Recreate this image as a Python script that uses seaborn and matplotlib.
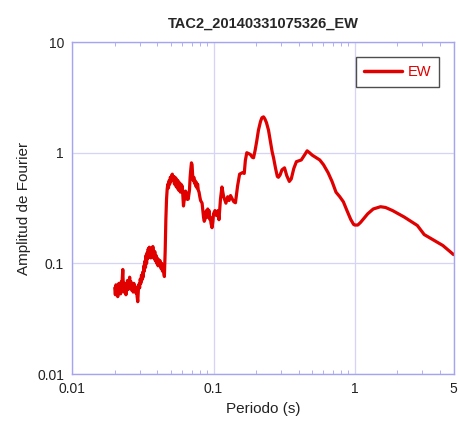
import matplotlib
matplotlib.use("Agg")
import matplotlib.pyplot as plt
import matplotlib.ticker as mticker
import seaborn as sns
import pandas as pd

# Fourier amplitude spectrum
periodo = [
    0.0200, 0.0202, 0.0204, 0.0206, 0.0208, 0.0210, 0.0212, 0.0214, 0.0216, 0.0218,
    0.0220, 0.0222, 0.0224, 0.0226, 0.0228, 0.0230, 0.0232, 0.0234, 0.0236, 0.0238,
    0.0240, 0.0243, 0.0246, 0.0249, 0.0252, 0.0255, 0.0258, 0.0261, 0.0264, 0.0267,
    0.0270, 0.0273, 0.0276, 0.0279, 0.0282, 0.0285, 0.0288, 0.0291, 0.0294, 0.0297,
    0.0300, 0.0303, 0.0306, 0.0309, 0.0312, 0.0315, 0.0318, 0.0321, 0.0324, 0.0327,
    0.0330, 0.0333, 0.0336, 0.0339, 0.0342, 0.0345, 0.0348, 0.0351, 0.0354, 0.0357,
    0.0360, 0.0364, 0.0368, 0.0372, 0.0376, 0.0380, 0.0384, 0.0388, 0.0392, 0.0396,
    0.0400, 0.0405, 0.0410, 0.0415, 0.0420, 0.0425, 0.0430, 0.0435, 0.0440, 0.0445,
    0.0449, 0.0455, 0.0460, 0.0465, 0.0470, 0.0475, 0.0480, 0.0485, 0.0490, 0.0495,
    0.0500, 0.0505, 0.0511, 0.0517, 0.0523, 0.0529, 0.0535, 0.0541, 0.0547, 0.0553,
    0.0559, 0.0565, 0.0571, 0.0577, 0.0583, 0.0589, 0.0595, 0.0601, 0.0607, 0.0613,
    0.0620, 0.0627, 0.0634, 0.0641, 0.0648, 0.0655, 0.0662, 0.0669, 0.0676, 0.0683,
    0.0690, 0.0698, 0.0705, 0.0712, 0.0719, 0.0726, 0.0733, 0.0740, 0.0748, 0.0756,
    0.0764, 0.0772, 0.0780, 0.0790, 0.0800, 0.0810, 0.0820, 0.0830, 0.0840, 0.0850,
    0.0860, 0.0870, 0.0880, 0.0890, 0.0900, 0.0910, 0.0920, 0.0930, 0.0940, 0.0950,
    0.0960, 0.0976, 0.0990, 0.1000, 0.1024, 0.1050, 0.1075, 0.1093, 0.1120, 0.1147,
    0.1180, 0.1224, 0.1260, 0.1290, 0.1320, 0.1360, 0.1393, 0.1430, 0.1480, 0.1530,
    0.1600, 0.1650, 0.1680, 0.1720, 0.1780, 0.1830, 0.1880, 0.1920, 0.1970, 0.2020,
    0.2080, 0.2150, 0.2200, 0.2260, 0.2310, 0.2370, 0.2450, 0.2530, 0.2600, 0.2660,
    0.2750, 0.2830, 0.2880, 0.2960, 0.3050, 0.3180, 0.3300, 0.3440, 0.3550, 0.3700,
    0.3860, 0.4180, 0.4400, 0.4600, 0.4780, 0.5000, 0.5200, 0.5650, 0.6000, 0.6470,
    0.6900, 0.7360, 0.7830, 0.8300, 0.8800, 0.9350, 0.9800, 1.0000, 1.0500, 1.1000,
    1.2330, 1.3500, 1.5210, 1.6500, 1.8500, 2.2400, 2.7700, 3.1000, 3.5300, 4.2000,
    5.0000,
]
amplitud = [
    0.060, 0.052, 0.064, 0.055, 0.061, 0.050, 0.058, 0.066, 0.056, 0.062,
    0.053, 0.068, 0.060, 0.072, 0.088, 0.062, 0.055, 0.066, 0.058, 0.064,
    0.052, 0.060, 0.070, 0.058, 0.065, 0.075, 0.060, 0.068, 0.057, 0.063,
    0.055, 0.066, 0.058, 0.062, 0.054, 0.060, 0.050, 0.045, 0.058, 0.065,
    0.060, 0.072, 0.066, 0.078, 0.071, 0.083, 0.075, 0.095, 0.085, 0.105,
    0.092, 0.118, 0.100, 0.125, 0.110, 0.135, 0.115, 0.140, 0.120, 0.130,
    0.112, 0.138, 0.118, 0.142, 0.125, 0.110, 0.128, 0.105, 0.118, 0.100,
    0.112, 0.095, 0.108, 0.098, 0.105, 0.090, 0.100, 0.085, 0.095, 0.082,
    0.076, 0.130, 0.250, 0.380, 0.470, 0.520, 0.480, 0.560, 0.520, 0.600,
    0.550, 0.620, 0.640, 0.560, 0.610, 0.520, 0.600, 0.500, 0.580, 0.480,
    0.560, 0.460, 0.540, 0.500, 0.440, 0.520, 0.460, 0.500, 0.400, 0.330,
    0.370, 0.420, 0.450, 0.400, 0.380, 0.430, 0.380, 0.420, 0.460, 0.600,
    0.700, 0.810, 0.780, 0.620, 0.560, 0.600, 0.530, 0.560, 0.500, 0.540,
    0.480, 0.520, 0.460, 0.440, 0.400, 0.370, 0.360, 0.350, 0.300, 0.260,
    0.240, 0.250, 0.270, 0.300, 0.260, 0.310, 0.280, 0.300, 0.250, 0.260,
    0.230, 0.210, 0.240, 0.280, 0.300, 0.270, 0.300, 0.248, 0.380, 0.490,
    0.400, 0.350, 0.400, 0.370, 0.410, 0.380, 0.360, 0.353, 0.500, 0.640,
    0.660, 0.650, 0.850, 1.000, 0.980, 0.960, 0.910, 0.900, 1.050, 1.260,
    1.600, 1.910, 2.070, 2.110, 2.020, 1.870, 1.600, 1.260, 1.020, 0.900,
    0.720, 0.610, 0.600, 0.630, 0.700, 0.730, 0.620, 0.550, 0.580, 0.720,
    0.830, 0.860, 0.950, 1.040, 1.000, 0.950, 0.920, 0.860, 0.780, 0.660,
    0.550, 0.440, 0.400, 0.360, 0.300, 0.250, 0.225, 0.222, 0.222, 0.235,
    0.280, 0.310, 0.325, 0.320, 0.300, 0.262, 0.220, 0.182, 0.165, 0.145,
    0.120,
]
serie = "EW"
titulo = "TAC2_20140331075326_EW"
x_ticks = [0.01, 0.1, 1, 5]
x_labels = ["0.01", "0.1", "1", "5"]
y_ticks = [0.01, 0.1, 1, 10]
y_labels = ["0.01", "0.1", "1", "10"]

df = pd.DataFrame({"Periodo": periodo, "Amplitud": amplitud})

sns.set_style("white")
plt.rcParams["font.family"] = ["Liberation Sans", "DejaVu Sans"]

fig = plt.figure(figsize=(4.6, 4.25), dpi=100)
ax = fig.add_axes([0.157, 0.12, 0.829, 0.781])

red = "#e00000"
sns.lineplot(data=df, x="Periodo", y="Amplitud", ax=ax, color=red,
             linewidth=2.3, label=serie, sort=False)

ax.set_xscale("log")
ax.set_yscale("log")
ax.set_xlim(0.01, 5)
ax.set_ylim(0.01, 10)

ax.set_xticks(x_ticks)
ax.set_xticklabels(x_labels)
ax.set_yticks(y_ticks)
ax.set_yticklabels(y_labels)
ax.xaxis.set_minor_locator(mticker.LogLocator(base=10, subs=range(2, 10), numticks=20))
ax.yaxis.set_minor_locator(mticker.NullLocator())
ax.xaxis.set_minor_formatter(mticker.NullFormatter())

spine_col = "#a4a4f0"
grid_col = "#d4d4f6"
ax.grid(True, which="major", color=grid_col, linewidth=0.9)
for s in ax.spines.values():
    s.set_color(spine_col)
    s.set_linewidth(1.0)
ax.tick_params(which="major", length=0, labelsize=10, colors="#222222", pad=6)
ax.tick_params(which="minor", direction="in", length=3, color=spine_col,
               top=True, bottom=True)

ax.set_xlabel("Periodo (s)", fontsize=11, color="#222222")
ax.set_ylabel("Amplitud de Fourier", fontsize=11, color="#222222")
ax.set_title(titulo, fontsize=10.5, fontweight="bold", pad=10)

leg = ax.legend(loc="upper right", frameon=True, fancybox=False,
                fontsize=10.5, handlelength=2.6, borderaxespad=1.0,
                borderpad=0.55, handletextpad=0.4)
leg.get_frame().set_edgecolor("#222222")
leg.get_frame().set_linewidth(1.0)
for t in leg.get_texts():
    t.set_color(red)
for h in leg.get_lines():
    h.set_linewidth(2.5)

fig.savefig("out.png", dpi=100)
